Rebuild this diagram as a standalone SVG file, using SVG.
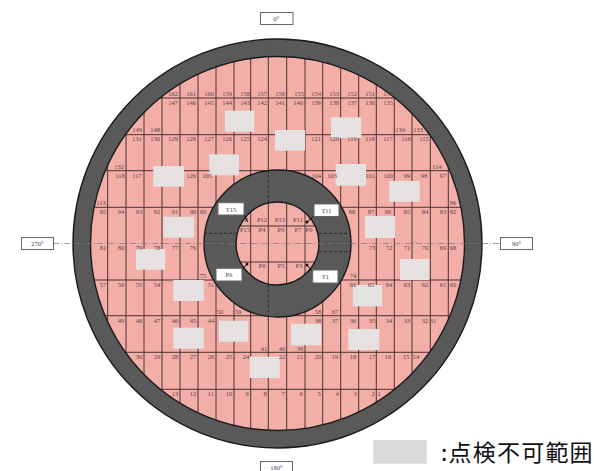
<svg xmlns="http://www.w3.org/2000/svg" width="594" height="471" viewBox="0 0 594 471">
<style>
.ring{fill:#595959;fill-rule:evenodd;stroke:#1a1a1a;stroke-width:1.4}
.g{stroke:#4a3232;stroke-width:1;fill:none}
.dash{stroke:#222;stroke-width:.9;stroke-dasharray:3 2;fill:none}
.cl{stroke:#777;stroke-width:.7;stroke-dasharray:6 2 1 2;fill:none}
.n{font:6.5px "Liberation Serif",serif;fill:#5a4545;text-anchor:middle}
.tag{fill:#fff;stroke:#666;stroke-width:1}
.t{font:6.5px "Liberation Serif",serif;fill:#445;text-anchor:middle}
.mask{fill:url(#dots)}
</style>
<defs>
<pattern id="dots" width="2" height="2" patternUnits="userSpaceOnUse"><rect width="2" height="2" fill="#e8e4e4"/><rect width="1" height="1" fill="#dfdada"/></pattern>
<clipPath id="disk"><circle cx="277.5" cy="243.5" r="187"/></clipPath>
</defs>
<rect width="594" height="471" fill="#fff"/>
<circle cx="277.5" cy="243.5" r="187" fill="#f4aea8"/>
<g id="grid" clip-path="url(#disk)">
<path class="g" d="M107.700 50V440M126 50V440M144 50V440M162 50V440M180 50V440M198 50V440M216 50V440M234 50V440M250.700 50V440M268.300 50V440M286.700 50V440M305 50V440M322.700 50V440M340.700 50V440M358.700 50V440M376.300 50V440M394.300 50V440M412 50V440M430.300 50V440M448.300 50V440"/>
<path class="g" d="M80 98H480M80 134.700H480M80 170.700H480M80 207.300H235M320 207.300H480M80 280H235M320 280H480M80 315.700H480M80 352.300H480M80 389.300H480M230 226H325M230 262H325"/>
</g>
<path id="ring-outer" class="ring" d="M73 243.500a204.500 204.500 0 1 0 409 0a204.500 204.500 0 1 0 -409 0ZM90.500 243.500a187 187 0 1 0 374 0a187 187 0 1 0 -374 0Z"/>
<path id="ring-inner" class="ring" d="M204 243.500a73.500 73.500 0 1 0 147 0a73.500 73.500 0 1 0 -147 0ZM236 243.500a41.500 41.500 0 1 0 83 0a41.500 41.500 0 1 0 -83 0Z"/>
<g id="centrelines">
<path class="cl" d="M53 243.500H500"/>
<path class="dash" d="M268.300 170V202.500M268.300 284.500V317M204 233.300H236M319 233.300H351M319 251.700H351"/>
</g>
<g id="masks">
<rect class="mask" x="225" y="110.700" width="29.300" height="21"/>
<rect class="mask" x="275" y="130" width="30" height="20.700"/>
<rect class="mask" x="209.300" y="154.300" width="29.700" height="21"/>
<rect class="mask" x="153.300" y="166" width="30.700" height="20.700"/>
<rect class="mask" x="163.300" y="216.700" width="30.700" height="21"/>
<rect class="mask" x="331" y="117.300" width="30.300" height="20.700"/>
<rect class="mask" x="335.700" y="164" width="30.300" height="21.700"/>
<rect class="mask" x="389.300" y="181" width="30.400" height="20.700"/>
<rect class="mask" x="365" y="216" width="30" height="22"/>
<rect class="mask" x="136" y="249" width="29.300" height="20.700"/>
<rect class="mask" x="173.300" y="280" width="30.400" height="21"/>
<rect class="mask" x="173.300" y="327.700" width="30.400" height="21"/>
<rect class="mask" x="219" y="320.700" width="29" height="21"/>
<rect class="mask" x="249.700" y="356.700" width="30" height="21.300"/>
<rect class="mask" x="291" y="323.700" width="30.300" height="21.600"/>
<rect class="mask" x="400" y="259" width="29.300" height="21"/>
<rect class="mask" x="352.700" y="285" width="29.300" height="21.300"/>
<rect class="mask" x="348.300" y="329" width="31" height="21"/>
</g>
<g id="numbers" class="n">
<text class="n" x="173" y="96">162</text><text class="n" x="191" y="96">161</text><text class="n" x="209" y="96">160</text><text class="n" x="227" y="96">159</text><text class="n" x="245" y="96">158</text><text class="n" x="262" y="96">157</text><text class="n" x="280" y="96">156</text><text class="n" x="299" y="96">155</text><text class="n" x="316" y="96">154</text><text class="n" x="334" y="96">153</text><text class="n" x="352" y="96">152</text><text class="n" x="370" y="96">151</text><text class="n" x="388" y="96">150</text>
<text class="n" x="173" y="105">147</text><text class="n" x="191" y="105">146</text><text class="n" x="209" y="105">145</text><text class="n" x="227" y="105">144</text><text class="n" x="245" y="105">143</text><text class="n" x="262" y="105">142</text><text class="n" x="280" y="105">141</text><text class="n" x="298" y="105">140</text><text class="n" x="316" y="105">139</text><text class="n" x="334" y="105">138</text><text class="n" x="352" y="105">137</text><text class="n" x="370" y="105">136</text><text class="n" x="388" y="105">135</text>
<text class="n" x="137" y="132">149</text><text class="n" x="155" y="132">148</text><text class="n" x="400" y="132">134</text><text class="n" x="418" y="132">133</text>
<text class="n" x="137" y="141">131</text><text class="n" x="155" y="141">130</text><text class="n" x="173" y="141">129</text><text class="n" x="191" y="141">128</text><text class="n" x="209" y="141">127</text><text class="n" x="227" y="141">126</text><text class="n" x="245" y="141">125</text><text class="n" x="262" y="141">124</text><text class="n" x="316" y="141">121</text><text class="n" x="334" y="141">120</text><text class="n" x="352" y="141">119</text><text class="n" x="370" y="141">118</text><text class="n" x="388" y="141">117</text><text class="n" x="406" y="141">116</text><text class="n" x="424" y="141">115</text>
<text class="n" x="119" y="169">132</text><text class="n" x="437" y="169">114</text>
<text class="n" x="120" y="178">118</text><text class="n" x="137" y="178">117</text><text class="n" x="191" y="178">120</text><text class="n" x="207" y="178">105</text><text class="n" x="316" y="178">104</text><text class="n" x="332" y="178">103</text><text class="n" x="370" y="178">101</text><text class="n" x="388" y="178">100</text><text class="n" x="407" y="178">99</text><text class="n" x="424" y="178">98</text><text class="n" x="443" y="178">97</text>
<text class="n" x="101" y="205">113</text><text class="n" x="453" y="205">96</text>
<text class="n" x="103" y="214">95</text><text class="n" x="121" y="214">94</text><text class="n" x="139" y="214">93</text><text class="n" x="157" y="214">92</text><text class="n" x="175" y="214">91</text><text class="n" x="193" y="214">90</text><text class="n" x="203" y="214">89</text><text class="n" x="352" y="214">88</text><text class="n" x="371" y="214">87</text><text class="n" x="388" y="214">86</text><text class="n" x="407" y="214">85</text><text class="n" x="425" y="214">84</text><text class="n" x="443" y="214">83</text><text class="n" x="453" y="214">82</text>
<text class="n" x="103" y="250">81</text><text class="n" x="121" y="250">80</text><text class="n" x="139" y="250">79</text><text class="n" x="157" y="250">78</text><text class="n" x="175" y="250">77</text><text class="n" x="193" y="250">76</text><text class="n" x="372" y="250">73</text><text class="n" x="389" y="250">72</text><text class="n" x="407" y="250">71</text><text class="n" x="425" y="250">70</text><text class="n" x="443" y="250">69</text><text class="n" x="453" y="250">68</text>
<text class="n" x="203" y="278">75</text><text class="n" x="353" y="278">74</text>
<text class="n" x="103" y="287">57</text><text class="n" x="121" y="287">56</text><text class="n" x="139" y="287">55</text><text class="n" x="157" y="287">54</text><text class="n" x="211" y="287">51</text><text class="n" x="353" y="287">66</text><text class="n" x="371" y="287">65</text><text class="n" x="389" y="287">64</text><text class="n" x="407" y="287">63</text><text class="n" x="425" y="287">62</text><text class="n" x="443" y="287">61</text><text class="n" x="453" y="287">60</text>
<text class="n" x="220" y="314">50</text><text class="n" x="238" y="314">59</text><text class="n" x="318" y="314">58</text><text class="n" x="335" y="314">67</text>
<text class="n" x="121" y="323">49</text><text class="n" x="139" y="323">48</text><text class="n" x="157" y="323">47</text><text class="n" x="175" y="323">46</text><text class="n" x="193" y="323">45</text><text class="n" x="211" y="323">44</text><text class="n" x="318" y="323">38</text><text class="n" x="335" y="323">37</text><text class="n" x="353" y="323">36</text><text class="n" x="372" y="323">35</text><text class="n" x="389" y="323">34</text><text class="n" x="407" y="323">33</text><text class="n" x="425" y="323">32</text><text class="n" x="433" y="323">31</text>
<text class="n" x="264" y="351">41</text><text class="n" x="282" y="351">40</text><text class="n" x="300" y="351">39</text>
<text class="n" x="139" y="359">30</text><text class="n" x="157" y="359">29</text><text class="n" x="175" y="359">28</text><text class="n" x="193" y="359">27</text><text class="n" x="211" y="359">26</text><text class="n" x="229" y="359">25</text><text class="n" x="246" y="359">24</text><text class="n" x="282" y="359">22</text><text class="n" x="300" y="359">21</text><text class="n" x="318" y="359">20</text><text class="n" x="335" y="359">19</text><text class="n" x="353" y="359">18</text><text class="n" x="372" y="359">17</text><text class="n" x="388" y="359">16</text><text class="n" x="406" y="359">15</text><text class="n" x="416" y="359">14</text>
<text class="n" x="175" y="396">13</text><text class="n" x="193" y="396">12</text><text class="n" x="211" y="396">11</text><text class="n" x="229" y="396">10</text><text class="n" x="247" y="396">9</text><text class="n" x="265" y="396">8</text><text class="n" x="283" y="396">7</text><text class="n" x="301" y="396">6</text><text class="n" x="319" y="396">5</text><text class="n" x="337" y="396">4</text><text class="n" x="355" y="396">3</text><text class="n" x="373" y="396">2</text><text class="n" x="379" y="396">1</text>
<text class="n" x="246" y="222">P</text><text class="n" x="262" y="222">P12</text><text class="n" x="280" y="222">P13</text><text class="n" x="298" y="222">P11</text>
<text class="n" x="245" y="232">P15</text><text class="n" x="262" y="232">P4</text><text class="n" x="281" y="232">P9</text><text class="n" x="298" y="232">P7</text><text class="n" x="309" y="232">P6</text>
<text class="n" x="262" y="268">P6</text><text class="n" x="281" y="268">P5</text><text class="n" x="299" y="268">P3</text>
</g>
<g id="nozzle-T15"><path d="M244 215L248 222" stroke="#111" fill="none"/><rect class="tag" x="218" y="202.700" width="26" height="12.300"/><text class="t" x="231" y="211.500">T15</text></g>
<g id="nozzle-T11"><path d="M314 216L307 222" stroke="#111" fill="none"/><circle cx="307" cy="222" r="1.500" fill="#111"/><rect class="tag" x="314" y="204" width="25" height="12.500"/><text class="t" x="326.500" y="212.500">T11</text></g>
<g id="nozzle-Ph"><path d="M242 270L247 264" stroke="#111" fill="none"/><circle cx="247" cy="264" r="1.500" fill="#111"/><rect class="tag" x="216" y="268.300" width="26" height="12.700"/><text class="t" x="229" y="277">Ph</text></g>
<g id="nozzle-T1"><path d="M313 272L307 265" stroke="#111" fill="none"/><circle cx="307" cy="265" r="1.500" fill="#111"/><rect class="tag" x="312.700" y="270" width="25.300" height="13"/><text class="t" x="325.300" y="279">T1</text></g>
<g id="tag-0"><rect class="tag" x="260.500" y="12.500" width="32.500" height="12"/><text class="t" x="276.500" y="21">0°</text></g>
<g id="tag-270"><rect class="tag" x="21.500" y="237.500" width="32" height="12"/><text class="t" x="37.500" y="246">270°</text></g>
<g id="tag-90"><rect class="tag" x="500.500" y="237.500" width="32" height="12"/><text class="t" x="516.500" y="246">90°</text></g>
<g id="tag-180"><rect class="tag" x="260.500" y="461.500" width="32" height="12"/><text class="t" x="276.500" y="470">180°</text></g>
<g id="legend"><rect x="373.300" y="440" width="53.400" height="23.700" fill="#d9d9d9"/><text x="441" y="461" font-family="'Noto Sans CJK JP','Liberation Sans',sans-serif" font-size="23" letter-spacing="1.200" fill="#111">:点検不可範囲</text></g>
</svg>
